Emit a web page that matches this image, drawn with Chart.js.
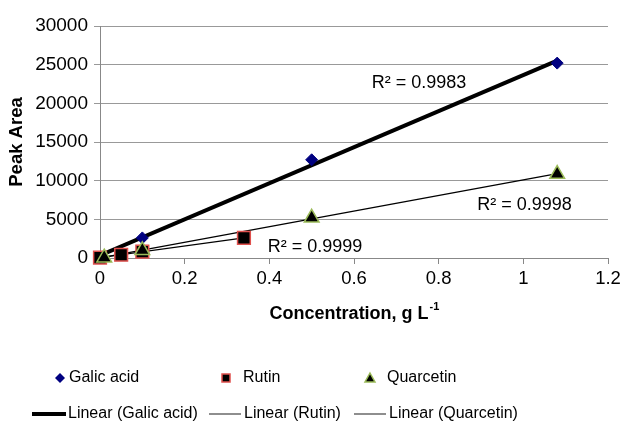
<!DOCTYPE html>
<html>
<head>
<meta charset="utf-8">
<title>Calibration curves</title>
<script src="https://cdn.jsdelivr.net/npm/chart.js@4.4.1/dist/chart.umd.min.js"></script>
<style>
    html, body { margin: 0; padding: 0; background: #ffffff; }
    #wrap { width: 627px; height: 425px; position: relative; }
</style>
</head>
<body>
<div id="wrap"><canvas id="calib-chart"></canvas></div>
<script>
// Calibration data: concentration (g/L) vs peak area
const galicConc = [0, 0.1, 0.5, 1.08];
const galicArea = [0, 2600, 12700, 25200];
const rutinConc = [0, 0.05, 0.1, 0.34];
const rutinArea = [60, 420, 820, 2600];
const quarConc = [0.01, 0.1, 0.5, 1.08];
const quarArea = [40, 1000, 5200, 10850];

const seriesNames = ['Galic acid', 'Rutin', 'Quarcetin'];
const r2Texts = ['R² = 0.9983', 'R² = 0.9998', 'R² = 0.9999'];
const xTickValues = [0, 0.2, 0.4, 0.6, 0.8, 1, 1.2];
const yTickValues = [0, 5000, 10000, 15000, 20000, 25000, 30000];

const FONT = '"Liberation Sans", Arial, sans-serif';

/**
 * Least squares line over the x range of the data
 */
function linearFit(xs, ys) {
    const n = xs.length;
    const mx = xs.reduce((a, b) => a + b, 0) / n;
    const my = ys.reduce((a, b) => a + b, 0) / n;
    let sxy = 0, sxx = 0;
    for (let i = 0; i < n; i++) {
        sxy += (xs[i] - mx) * (ys[i] - my);
        sxx += (xs[i] - mx) * (xs[i] - mx);
    }
    const slope = sxy / sxx;
    const icpt = my - slope * mx;
    const x0 = Math.min(...xs), x1 = Math.max(...xs);
    return [{ x: x0, y: icpt + slope * x0 }, { x: x1, y: icpt + slope * x1 }];
}

function toPoints(xs, ys) {
    return xs.map((x, i) => ({ x: x, y: ys[i] }));
}

// R² labels, anchored in data units
const r2Anchors = [
    { x: 0.642, y: 22650 },
    { x: 0.891, y: 6900 },
    { x: 0.396, y: 1450 }
];

const annotationsPlugin = {
    id: 'r2Labels',
    afterDatasetsDraw(chart) {
        const ctx = chart.ctx;
        const xs = chart.scales.x, ys = chart.scales.y;
        ctx.save();
        ctx.font = '18px ' + FONT;
        ctx.fillStyle = '#000';
        ctx.textBaseline = 'middle';
        ctx.textAlign = 'left';
        r2Texts.forEach((t, i) => {
            ctx.fillText(t, xs.getPixelForValue(r2Anchors[i].x), ys.getPixelForValue(r2Anchors[i].y));
        });
        ctx.restore();
    }
};

// X axis title with superscript, plus the two-row legend below it
const bottomPlugin = {
    id: 'bottomArea',
    afterDraw(chart) {
        const ctx = chart.ctx;
        const area = chart.chartArea;
        ctx.save();
        ctx.fillStyle = '#000';
        ctx.textBaseline = 'middle';

        // axis title
        const main = 'Concentration, g L';
        const sup = '-1';
        ctx.font = 'bold 18px ' + FONT;
        const wMain = ctx.measureText(main).width;
        ctx.font = 'bold 11px ' + FONT;
        const wSup = ctx.measureText(sup).width;
        const cx = (area.left + area.right) / 2;
        const tx = cx - (wMain + wSup) / 2;
        ctx.font = 'bold 18px ' + FONT;
        ctx.textAlign = 'left';
        ctx.fillText(main, tx, 314);
        ctx.font = 'bold 11px ' + FONT;
        ctx.fillText(sup, tx + wMain + 1, 307);

        // legend row 1: markers
        ctx.font = '16px ' + FONT;
        const row1 = 378, row2 = 414;
        // diamond
        ctx.fillStyle = '#000080';
        ctx.beginPath();
        ctx.moveTo(60, row1 - 5); ctx.lineTo(65, row1); ctx.lineTo(60, row1 + 5); ctx.lineTo(55, row1);
        ctx.closePath(); ctx.fill();
        // square
        ctx.fillStyle = '#000';
        ctx.strokeStyle = '#e0504d';
        ctx.lineWidth = 1.5;
        ctx.fillRect(222, row1 - 4, 8, 8);
        ctx.strokeRect(222, row1 - 4, 8, 8);
        // triangle
        ctx.strokeStyle = '#9bbb59';
        ctx.beginPath();
        ctx.moveTo(370, row1 - 5); ctx.lineTo(375, row1 + 4); ctx.lineTo(365, row1 + 4);
        ctx.closePath(); ctx.fill(); ctx.stroke();

        ctx.fillStyle = '#000';
        ctx.fillText(seriesNames[0], 69, row1);
        ctx.fillText(seriesNames[1], 243, row1);
        ctx.fillText(seriesNames[2], 387, row1);

        // legend row 2: trendlines
        ctx.strokeStyle = '#000';
        ctx.lineWidth = 4;
        ctx.beginPath(); ctx.moveTo(32, row2); ctx.lineTo(66, row2); ctx.stroke();
        ctx.strokeStyle = '#444';
        ctx.lineWidth = 1.2;
        ctx.beginPath(); ctx.moveTo(209, row2); ctx.lineTo(241, row2); ctx.stroke();
        ctx.beginPath(); ctx.moveTo(354, row2); ctx.lineTo(386, row2); ctx.stroke();
        ctx.fillText('Linear (' + seriesNames[0] + ')', 68, row2);
        ctx.fillText('Linear (' + seriesNames[1] + ')', 244, row2);
        ctx.fillText('Linear (' + seriesNames[2] + ')', 389, row2);
        ctx.restore();
    }
};

function initCalibrationChart() {
    const ctx = document.getElementById('calib-chart');
    if (!ctx) return;

    const data = {
        datasets: [
            {
                label: seriesNames[0],
                data: toPoints(galicConc, galicArea),
                showLine: false,
                pointStyle: 'rectRot',
                pointRadius: 6,
                backgroundColor: '#000080',
                borderColor: '#000080',
                borderWidth: 1,
                clip: false,
                order: 3
            },
            {
                label: seriesNames[1],
                data: toPoints(rutinConc, rutinArea),
                showLine: false,
                pointStyle: 'rect',
                pointRadius: 9,
                backgroundColor: '#000',
                borderColor: '#e0504d',
                borderWidth: 1.5,
                clip: false,
                order: 2
            },
            {
                label: seriesNames[2],
                data: toPoints(quarConc, quarArea),
                showLine: false,
                pointStyle: 'triangle',
                pointRadius: 8.5,
                backgroundColor: '#000',
                borderColor: '#9bbb59',
                borderWidth: 1.5,
                clip: false,
                order: 1
            },
            {
                label: 'Linear (' + seriesNames[0] + ')',
                data: linearFit(galicConc, galicArea),
                showLine: true,
                pointRadius: 0,
                borderColor: '#000',
                borderWidth: 4,
                order: 6
            },
            {
                label: 'Linear (' + seriesNames[1] + ')',
                data: linearFit(rutinConc, rutinArea),
                showLine: true,
                pointRadius: 0,
                borderColor: '#000',
                borderWidth: 1.3,
                order: 5
            },
            {
                label: 'Linear (' + seriesNames[2] + ')',
                data: linearFit(quarConc, quarArea),
                showLine: true,
                pointRadius: 0,
                borderColor: '#000',
                borderWidth: 1.3,
                order: 4
            }
        ]
    };

    const config = {
        type: 'scatter',
        data: data,
        options: {
            responsive: true,
            maintainAspectRatio: false,
            animation: false,
            layout: {
                padding: { top: 26, right: 19, bottom: 0, left: 0 }
            },
            plugins: {
                legend: { display: false },
                tooltip: { enabled: false }
            },
            scales: {
                x: {
                    type: 'linear',
                    min: 0,
                    max: 1.2,
                    afterBuildTicks: function(scale) {
                        scale.ticks = xTickValues.map(v => ({ value: v }));
                    },
                    afterFit: function(scale) {
                        scale.height = 167;
                    },
                    border: { color: '#888', width: 1 },
                    grid: {
                        drawOnChartArea: false,
                        drawTicks: true,
                        tickLength: 6,
                        color: '#888'
                    },
                    ticks: {
                        color: '#000',
                        padding: 4,
                        font: { family: FONT, size: 18.5 },
                        callback: function(value) { return String(value); }
                    }
                },
                y: {
                    type: 'linear',
                    min: 0,
                    max: 30000,
                    afterBuildTicks: function(scale) {
                        scale.ticks = yTickValues.map(v => ({ value: v }));
                    },
                    afterFit: function(scale) {
                        scale.width = 100;
                    },
                    border: { color: '#888', width: 1 },
                    grid: {
                        color: '#999',
                        lineWidth: 1,
                        drawTicks: true,
                        tickLength: 6
                    },
                    ticks: {
                        color: '#000',
                        padding: 6,
                        font: { family: FONT, size: 19 },
                        callback: function(value) { return String(value); }
                    },
                    title: {
                        display: true,
                        text: 'Peak Area',
                        color: '#000',
                        font: { family: FONT, size: 18.5, weight: 'bold' },
                        padding: { top: 6, bottom: 0 }
                    }
                }
            }
        },
        plugins: [annotationsPlugin, bottomPlugin]
    };

    new Chart(ctx, config);
}

document.addEventListener('DOMContentLoaded', initCalibrationChart);
</script>
</body>
</html>
